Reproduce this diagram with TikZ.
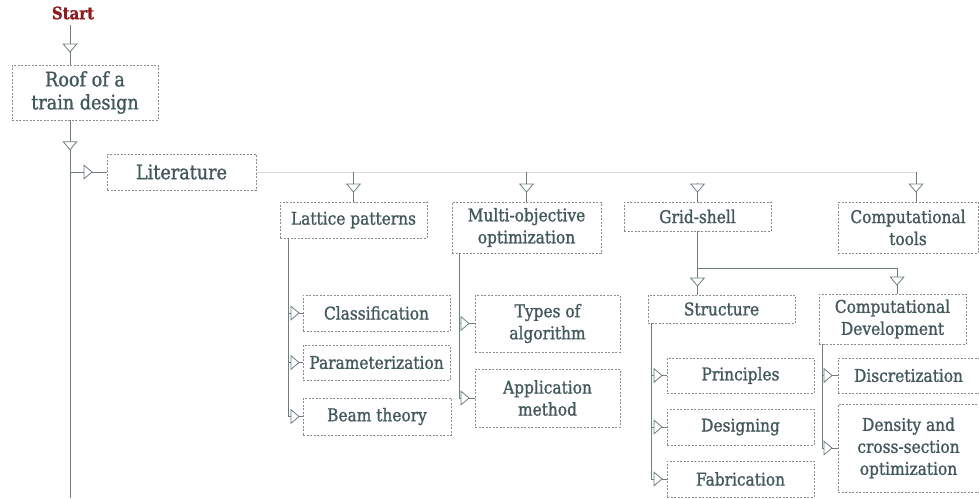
\documentclass[tikz,border=0pt]{standalone}
\usepackage{fontspec}
\setmainfont[FakeStretch=0.88, FakeBold=1.2]{DejaVu Serif}
\usepackage{tikz}
\usetikzlibrary{positioning,decorations.markings,arrows.meta}
\definecolor{boxtext}{HTML}{42585A}
\definecolor{linegray}{HTML}{6E7E80}
\definecolor{dashgray}{HTML}{8C8C8C}
\definecolor{startred}{HTML}{8E1B1E}
\definecolor{busgray}{HTML}{D5DCDC}
\tikzset{
  box/.style={draw=dashgray, dash pattern=on 2pt off 1.5pt, line width=0.7pt, text=boxtext, align=center, inner sep=0pt, font=\fontsize{17.5}{22}\selectfont},
  bigbox/.style={box, font=\fontsize{20}{23}\selectfont},
  link/.style={draw=linegray, line width=0.8pt},
  bus/.style={draw=busgray, line width=0.8pt},
  tri/.style={link, postaction={decorate}, decoration={markings, mark=at position #1 with {\arrow{Triangle[length=9pt,width=15pt,fill=white,line width=0.8pt]}}}},
}

\begin{document}
\begin{tikzpicture}[x=1pt, y=-1pt]
\useasboundingbox (0,0) rectangle (979,498);
\node[text=startred, font=\bfseries\fontsize{17}{18}\selectfont] (node_start) at (73, 13) {Start};
\node[bigbox, minimum width=146, minimum height=55] (node_roof) at (85, 92.5) {Roof of a\\train design};
\node[bigbox, minimum width=149, minimum height=36] (node_lit) at (181.5, 172) {Literature};
\node[box, minimum width=147, minimum height=36] (node_lattice) at (353.5, 220) {Lattice patterns};
\node[box, minimum width=149, minimum height=51] (node_multi) at (526.5, 227.5) {Multi-objective\\optimization};
\node[box, minimum width=147, minimum height=29] (node_grid) at (697.5, 216.5) {Grid-shell};
\node[box, minimum width=140, minimum height=51] (node_tools) at (908, 227.5) {Computational\\tools};
\node[box, minimum width=147, minimum height=28] (node_struct) at (721.5, 309) {Structure};
\node[box, minimum width=147, minimum height=50] (node_cdev) at (892.5, 319) {Computational\\Development};
\node[box, minimum width=147, minimum height=36] (node_classif) at (376.5, 313) {Classification};
\node[box, minimum width=147, minimum height=35] (node_param) at (376.5, 362.5) {Parameterization};
\node[box, minimum width=148, minimum height=37] (node_beam) at (377, 416.5) {Beam theory};
\node[box, minimum width=145, minimum height=57] (node_types) at (547.5, 323.5) {Types of\\algorithm};
\node[box, minimum width=145, minimum height=58] (node_appl) at (547.5, 398) {Application\\method};
\node[box, minimum width=147, minimum height=35] (node_princ) at (740.5, 375.5) {Principles};
\node[box, minimum width=147, minimum height=36] (node_design) at (740.5, 427) {Designing};
\node[box, minimum width=147, minimum height=36] (node_fabric) at (740.5, 479) {Fabrication};
\node[box, minimum width=141, minimum height=35] (node_discr) at (908.5, 375.5) {Discretization};
\node[box, minimum width=141, minimum height=88] (node_dens) at (908.5, 448) {Density and\\cross-section\\optimization};
\coordinate (trunk_end) at (70, 498);
\coordinate (bus_end) at (916, 172);
\draw[tri=-12pt] ([yshift=-2pt]node_start.south -| trunk_end) -- (trunk_end |- node_roof.north);
\draw[tri=30pt] (trunk_end |- node_roof.south) -- (trunk_end);
\draw[tri=-14pt] (trunk_end |- node_lit.west) -- (node_lit.west);
\draw[bus] (node_lit.east) -- (bus_end);
\draw[tri=-9pt] (node_lattice.north |- bus_end) -- (node_lattice.north);
\draw[tri=-9pt] (node_multi.north |- bus_end) -- (node_multi.north);
\draw[tri=-9pt] ([yshift=19pt]node_grid.north) -- (node_grid.north);
\draw[tri=-9pt] (bus_end) -- (bus_end |- node_tools.north);
\draw[link] (node_grid.south) -- ++(0,37) coordinate (grid_split);
\draw[tri=-8pt] (grid_split) -- (grid_split |- node_struct.north);
\draw[tri=-8pt] (grid_split) -| ([xshift=4.5pt]node_cdev.north);
\foreach \n in {classif,param,beam}
  \draw[tri=-3pt] ([xshift=9pt]node_lattice.south west) |- (node_\n.west);
\foreach \n in {types,appl}
  \draw[tri=-5pt] ([xshift=8pt]node_multi.south west) |- (node_\n.west);
\foreach \n in {princ,design,fabric}
  \draw[tri=-4pt] ([xshift=4pt]node_struct.south west) |- (node_\n.west);
\foreach \n in {discr,dens}
  \draw[tri=-5pt] ([xshift=4pt]node_cdev.south west) |- (node_\n.west);
\end{tikzpicture}
\end{document}
